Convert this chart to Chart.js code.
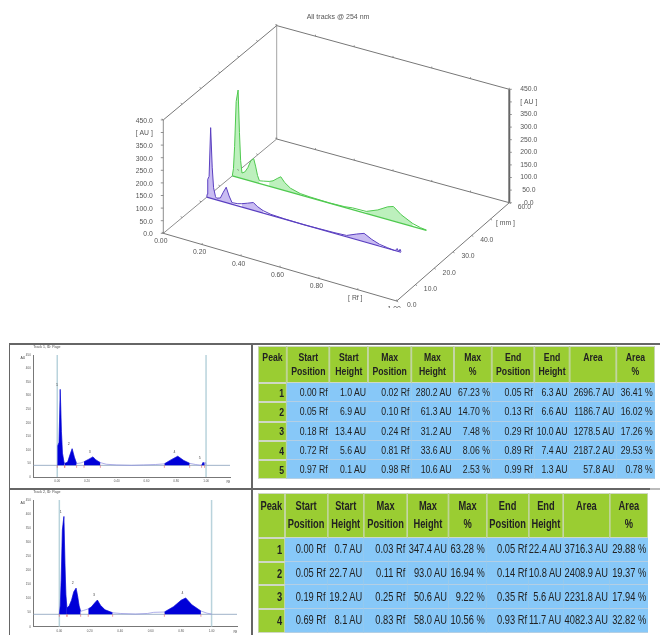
<!DOCTYPE html>
<html>
<head>
<meta charset="utf-8">
<script src="https://cdn.jsdelivr.net/npm/chart.js@4/dist/chart.umd.min.js"></script>
<style>
body { margin: 0; background: #fff; width: 660px; height: 635px; overflow: hidden; position: relative; }
canvas, table, .rule { position: absolute; }
.rule { background: #666; }
.blur { filter: blur(0.5px); }
table { border-collapse: separate; border-spacing: 0; table-layout: fixed; font-family: "Liberation Sans", sans-serif; color: #222; background: #c8d2cc; transform-origin: 0 0; }
th, td { box-sizing: border-box; }
th { background: #9acd32; font-weight: bold; vertical-align: top; text-align: center; padding: 3px 0 0; border: 1px solid #cfd8c4; overflow: hidden; }
td { background: #87c8f8; text-align: right; padding: 0 2.4px 0 0; border-bottom: 1px solid #b4cfe4; white-space: nowrap; overflow: hidden; }
td.num { background: #9acd32; font-weight: bold; border: 1px solid #cfd8c4; }
</style>
</head>
<body>
<canvas id="plot3d" class="blur" width="660" height="308" style="left:0;top:0"></canvas>
<canvas id="track1Plot" class="blur" width="242" height="143" style="top:345px;left:10px"></canvas>
<canvas id="track2Plot" class="blur" width="242" height="145" style="top:490px;left:10px"></canvas>
<div class="rule" style="left:9px;top:343px;width:651px;height:2px"></div>
<div class="rule" style="left:9px;top:488px;width:641px;height:2px"></div>
<div class="rule" style="left:650px;top:488px;width:10px;height:2px;background:#bbb"></div>
<div class="rule" style="left:9px;top:343px;width:1px;height:292px"></div>
<div class="rule" style="left:251px;top:343px;width:2px;height:292px"></div>
<div id="tables" class="blur"></div>
<script>
const track1Rf = [0, 0.002, 0.005, 0.012, 0.02, 0.028, 0.035, 0.045, 0.05, 0.07, 0.085, 0.10, 0.115, 0.13, 0.16, 0.18, 0.21, 0.24, 0.26, 0.29, 0.33, 0.40, 0.50, 0.58, 0.66, 0.72, 0.77, 0.81, 0.85, 0.89, 0.93, 0.96, 0.97, 0.98, 0.985, 0.99, 0.995, 1.0];
const track1Au = [1, 12, 72, 85, 280.2, 125, 45, 12, 6.9, 12, 38, 61.3, 30, 6.6, 9, 13.4, 22, 31.2, 20, 10, 4, 1.5, 0, 1.5, 3, 5.6, 22, 33.6, 18, 7.4, 3, 0.5, 0.1, 10.6, 4, 1.3, 11, 3];
const track2Rf = [0, 0.006, 0.012, 0.02, 0.03, 0.037, 0.043, 0.05, 0.065, 0.08, 0.095, 0.11, 0.12, 0.13, 0.14, 0.16, 0.19, 0.21, 0.235, 0.25, 0.27, 0.30, 0.35, 0.40, 0.50, 0.58, 0.62, 0.69, 0.75, 0.80, 0.83, 0.87, 0.93, 0.97, 1.0];
const track2Au = [0.7, 30, 120, 300, 347.4, 180, 70, 22.4, 30, 50, 80, 93, 65, 30, 10.8, 14, 19.2, 26, 42, 50.6, 32, 16, 5.6, 3, 1, 3, 7, 8.1, 27, 50, 58, 34, 11.7, 4, 1];

const auTickLabels = ['0.0', '50.0', '100.0', '150.0', '200.0', '250.0', '300.0', '350.0', '[ AU ]', '450.0'];
const rfTickLabels = ['0.00', '0.20', '0.40', '0.60', '0.80', '[ Rf ]', '1.00'];
const mmTickLabels = ['0.0', '10.0', '20.0', '30.0', '40.0', '[ mm ]', '60.0'];
const smallRfTicks = [0, 0.2, 0.4, 0.6, 0.8, 1.0];
const smallAuTicks = [0, 50, 100, 150, 200, 250, 300, 350, 400, 450];

const tableHeaders = [['Peak'], ['Start', 'Position'], ['Start', 'Height'], ['Max', 'Position'], ['Max', 'Height'], ['Max', '%'], ['End', 'Position'], ['End', 'Height'], ['Area'], ['Area', '%']];
const track1Rows = [
    ['0.00 Rf', '1.0 AU', '0.02 Rf', '280.2 AU', '67.23 %', '0.05 Rf', '6.3 AU', '2696.7 AU', '36.41 %'],
    ['0.05 Rf', '6.9 AU', '0.10 Rf', '61.3 AU', '14.70 %', '0.13 Rf', '6.6 AU', '1186.7 AU', '16.02 %'],
    ['0.18 Rf', '13.4 AU', '0.24 Rf', '31.2 AU', '7.48 %', '0.29 Rf', '10.0 AU', '1278.5 AU', '17.26 %'],
    ['0.72 Rf', '5.6 AU', '0.81 Rf', '33.6 AU', '8.06 %', '0.89 Rf', '7.4 AU', '2187.2 AU', '29.53 %'],
    ['0.97 Rf', '0.1 AU', '0.98 Rf', '10.6 AU', '2.53 %', '0.99 Rf', '1.3 AU', '57.8 AU', '0.78 %']
];
const track2Rows = [
    ['0.00 Rf', '0.7 AU', '0.03 Rf', '347.4 AU', '63.28 %', '0.05 Rf', '22.4 AU', '3716.3 AU', '29.88 %'],
    ['0.05 Rf', '22.7 AU', '0.11 Rf', '93.0 AU', '16.94 %', '0.14 Rf', '10.8 AU', '2408.9 AU', '19.37 %'],
    ['0.19 Rf', '19.2 AU', '0.25 Rf', '50.6 AU', '9.22 %', '0.35 Rf', '5.6 AU', '2231.8 AU', '17.94 %'],
    ['0.69 Rf', '8.1 AU', '0.83 Rf', '58.0 AU', '10.56 %', '0.93 Rf', '11.7 AU', '4082.3 AU', '32.82 %']
];

const track1Mm = 23;
const track2Mm = 36.5;
const RF_AXIS_END = 1.2;   // the 3D Rf axis has a spare slot for its unit label
const MM_AXIS_END = 60;
const AU_AXIS_END = 450;
const BOX = {front: [163.3, 233.3], right: [396.7, 301], back: [276.7, 139], far: [509.3, 202.7], height: 113.4};

const purple = {line: '#5a3fc0', fill: '#c9bcf2'};
const green = {line: '#4fc94f', fill: '#bdf0bd'};

function lerp(a, b, t) { return a + (b - a) * t; }

// oblique view: floor position from Rf and mm, then straight up for AU
function project(rf, mm, au) {
    const r = rf / RF_AXIS_END, m = mm / MM_AXIS_END;
    const x = lerp(lerp(BOX.front[0], BOX.right[0], r), lerp(BOX.back[0], BOX.far[0], r), m);
    const y = lerp(lerp(BOX.front[1], BOX.right[1], r), lerp(BOX.back[1], BOX.far[1], r), m);
    return {x: x, y: y - au / AU_AXIS_END * BOX.height};
}

function lineSet(points, color, width, extra) {
    return Object.assign({data: points, borderColor: color, borderWidth: width, pointRadius: 0, tension: 0, fill: false}, extra);
}

function peakRanges(rows) {
    return rows.map((row) => [parseFloat(row[0]), parseFloat(row[5]), parseFloat(row[2])]);
}

function trackDatasets(rf, au, mm, rows, colors) {
    var sets = [lineSet(rf.map((v, i) => project(v, mm, au[i])), colors.line, 1)];
    sets.push(lineSet([project(0, mm, 0), project(1, mm, 0)], colors.line, 1.2));
    peakRanges(rows).forEach((range) => {
        var idx = rf.map((v, i) => i).filter((i) => rf[i] >= range[0] && rf[i] <= range[1]);
        sets.push(lineSet(idx.map((i) => project(rf[i], mm, au[i])), 'rgba(0,0,0,0)', 0, {fill: '+1', backgroundColor: colors.fill}));
        sets.push(lineSet(idx.map((i) => project(rf[i], mm, 0)), 'rgba(0,0,0,0)', 0));
    });
    return sets;
}

function boxDatasets() {
    const edge = '#777', soft = '#8e8e8e';
    const c = (rf, mm, au) => project(rf, mm, au);
    const R = RF_AXIS_END, M = MM_AXIS_END, A = AU_AXIS_END;
    return [
        lineSet([c(0, 0, 0), c(R, 0, 0), c(R, M, 0), c(0, M, 0)], edge, 1),
        lineSet([c(0, 0, A), c(0, M, A), c(R, M, A)], edge, 1),
        lineSet([c(0, M, 0), c(0, 0, 0), c(0, 0, A)], soft, 1),
        lineSet([c(0, M, 0), c(0, M, A)], '#a4a4a4', 1),
        lineSet([c(R, M, 0), c(R, M, A)], '#666', 2)
    ];
}

const box3dPlugin = {
    id: 'box3d',
    afterDatasetsDraw(chart) {
        const ctx = chart.ctx;
        const sx = chart.scales.x, sy = chart.scales.y;
        const at = (p) => ({x: sx.getPixelForValue(p.x), y: sy.getPixelForValue(p.y)});
        const R = RF_AXIS_END, M = MM_AXIS_END, A = AU_AXIS_END;
        ctx.save();
        ctx.strokeStyle = '#777';
        ctx.lineWidth = 0.8;
        const tick = (p, dx, dy) => {
            const a = at(p);
            ctx.beginPath();
            ctx.moveTo(a.x, a.y);
            ctx.lineTo(a.x + dx, a.y + dy);
            ctx.stroke();
        };
        ctx.font = '6.8px "Liberation Sans"';
        ctx.fillStyle = '#555';
        ctx.textBaseline = 'middle';
        auTickLabels.forEach((label, i) => {
            const au = A * i / (auTickLabels.length - 1);
            const left = at(project(0, 0, au)), right = at(project(R, M, au));
            tick(project(0, 0, au), -2.5, 0);
            tick(project(R, M, au), 2.5, 0);
            ctx.textAlign = 'right';
            ctx.fillText(label, left.x - 10.5, left.y + 1);
            ctx.textAlign = 'center';
            ctx.fillText(label, right.x + 19.5, right.y);
        });
        ctx.textAlign = 'center';
        rfTickLabels.forEach((label, i) => {
            const rf = R * i / (rfTickLabels.length - 1);
            tick(project(rf, 0, 0), 0, -1.5);
            tick(project(rf, M, 0), 0, -1.5);
            tick(project(rf, M, A), 0, -1.5);
            const p = at(project(rf, 0, 0));
            ctx.fillText(label, p.x - 2.5, p.y + 8);
        });
        mmTickLabels.forEach((label, i) => {
            const mm = M * i / (mmTickLabels.length - 1);
            tick(project(R, mm, 0), 1.5, 1);
            tick(project(0, mm, 0), -1.5, -1);
            tick(project(0, mm, A), -1.5, -1);
            const p = at(project(R, mm, 0));
            ctx.fillText(label, p.x + 15, p.y + 4.5);
        });
        ctx.font = '7px "Liberation Sans"';
        ctx.fillText('All tracks @ 254 nm', 338, 17);
        ctx.restore();
    }
};

new Chart(document.getElementById('plot3d'), {
    type: 'line',
    data: {datasets: [
        ...trackDatasets(track1Rf, track1Au, track1Mm, track1Rows, purple),
        ...trackDatasets(track2Rf, track2Au, track2Mm, track2Rows, green),
        ...boxDatasets()
    ]},
    options: {
        responsive: false,
        animation: false,
        layout: {padding: 0},
        plugins: {legend: {display: false}, tooltip: {enabled: false}},
        scales: {
            x: {type: 'linear', display: false, min: 0, max: 660},
            y: {type: 'linear', display: false, min: 0, max: 308, reverse: true}
        }
    },
    plugins: [box3dPlugin]
});

function smallChart(id, cfg) {
    const rows = cfg.rows, base = cfg.pedestal;
    const shifted = cfg.rf.map((v, i) => ({x: v, y: cfg.au[i] + base}));
    const sets = [];
    peakRanges(rows).forEach((range) => {
        sets.push(lineSet(shifted.filter((p) => p.x >= range[0] && p.x <= range[1]), '#0000d8', 0.5,
            {fill: {target: {value: base}}, backgroundColor: '#0000d8'}));
    });
    sets.push(lineSet(shifted, '#8c8ce0', 0.7));
    sets.push(lineSet([{x: cfg.xMin, y: base}, {x: cfg.xMax, y: base}], '#9fb2c8', 1));
    sets.push(lineSet([{x: 0, y: 0}, {x: 0, y: 450}], '#b9d3dc', 1.5));
    sets.push(lineSet([{x: 1, y: 0}, {x: 1, y: 450}], '#b9d3dc', 1.5));

    const marksPlugin = {
        id: 'peakMarks',
        afterDatasetsDraw(chart) {
            const ctx = chart.ctx;
            const sx = chart.scales.x, sy = chart.scales.y;
            const baseY = sy.getPixelForValue(base);
            ctx.save();
            ctx.strokeStyle = '#e06060';
            ctx.lineWidth = 0.6;
            ctx.fillStyle = '#444';
            ctx.font = '3.5px "Liberation Sans"';
            ctx.textAlign = 'center';
            ctx.textBaseline = 'middle';
            peakRanges(rows).forEach((range, i) => {
                [range[0], range[1]].forEach((rf) => {
                    const x = sx.getPixelForValue(rf);
                    ctx.beginPath();
                    ctx.moveTo(x, baseY);
                    ctx.lineTo(x, baseY + 2.5);
                    ctx.stroke();
                });
                const top = cfg.au[cfg.rf.indexOf(range[2])] + base;
                const tx = sx.getPixelForValue(range[2]), ty = sy.getPixelForValue(top);
                ctx.fillText(String(i + 1), tx - 3.3, ty - 4.7);
            });
            ctx.textAlign = 'left';
            ctx.fillText(cfg.title, chart.chartArea.left, 2.5);
            ctx.fillText('AU', 10.5, chart.chartArea.top + 3);
            ctx.textAlign = 'right';
            ctx.fillText('Rf', chart.chartArea.right, chart.chartArea.bottom + 5.5);
            ctx.restore();
        }
    };

    new Chart(document.getElementById(id), {
        type: 'line',
        data: {datasets: sets},
        options: {
            responsive: false,
            animation: false,
            layout: {padding: {top: cfg.top, right: cfg.right, left: 0, bottom: 0}},
            plugins: {legend: {display: false}, tooltip: {enabled: false}},
            scales: {
                x: {
                    type: 'linear', min: cfg.xMin, max: cfg.xMax,
                    afterBuildTicks: (axis) => { axis.ticks = smallRfTicks.map((v) => ({value: v})); },
                    afterFit: (axis) => { axis.height = cfg.bottom; },
                    grid: {display: false, drawTicks: true, tickLength: 1.5, tickColor: '#777'},
                    border: {color: '#777', width: 1},
                    ticks: {font: {size: 3}, color: '#555', padding: 1, maxRotation: 0, autoSkip: false, callback: (v) => v.toFixed(2)}
                },
                y: {
                    type: 'linear', min: 0, max: 450,
                    afterBuildTicks: (axis) => { axis.ticks = smallAuTicks.map((v) => ({value: v})); },
                    afterFit: (axis) => { axis.width = 23.3; },
                    grid: {display: false, tickLength: 1.5, tickColor: '#777'},
                    border: {color: '#777', width: 1},
                    ticks: {font: {size: 3}, color: '#555', padding: 1, autoSkip: false, callback: (v) => String(v)}
                }
            }
        },
        plugins: [marksPlugin]
    });
}

smallChart('track1Plot', {rf: track1Rf, au: track1Au, rows: track1Rows, pedestal: 43, title: 'Track 1, ID: Page',
    xMin: -0.161, xMax: 1.161, top: 10, right: 22, bottom: 11});
smallChart('track2Plot', {rf: track2Rf, au: track2Au, rows: track2Rows, pedestal: 44, title: 'Track 2, ID: Page',
    xMin: -0.171, xMax: 1.167, top: 10, right: 15, bottom: 8.3});

// the source font is condensed, so the table is laid out wide and squeezed
function buildTable(rows, style) {
    const table = document.createElement('table');
    const widths = style.widths.map((w) => w / style.squeeze);
    table.style.left = style.left + 'px';
    table.style.top = style.top + 'px';
    table.style.fontSize = style.font + 'px';
    table.style.lineHeight = style.lineHeight + 'px';
    table.style.width = widths.reduce((a, b) => a + b, 0) + 'px';
    table.style.transform = 'scaleX(' + style.squeeze + ')';
    const head = table.insertRow();
    tableHeaders.forEach((lines, i) => {
        const th = document.createElement('th');
        th.style.width = widths[i] + 'px';
        th.style.height = style.headHeight + 'px';
        th.innerHTML = lines.join('<br>');
        head.appendChild(th);
    });
    rows.forEach((row, r) => {
        const tr = table.insertRow();
        tr.style.height = style.rowHeight + 'px';
        const num = tr.insertCell();
        num.className = 'num';
        num.textContent = r + 1;
        row.forEach((value) => { tr.insertCell().textContent = value; });
    });
    document.getElementById('tables').appendChild(table);
}

buildTable(track1Rows, {left: 258, top: 346, font: 10.6, squeeze: 0.82, lineHeight: 14, headHeight: 37, rowHeight: 19.3,
    widths: [29, 42.7, 38.3, 43.3, 42.3, 38.3, 42.7, 35, 46.7, 38.3]});
buildTable(track2Rows, {left: 258, top: 493, font: 12.4, squeeze: 0.75, lineHeight: 18, headHeight: 45, rowHeight: 23.7,
    widths: [26.7, 42.7, 36.7, 43, 41.7, 37.7, 42.3, 34.3, 46.7, 38.3]});
</script>
</body>
</html>
